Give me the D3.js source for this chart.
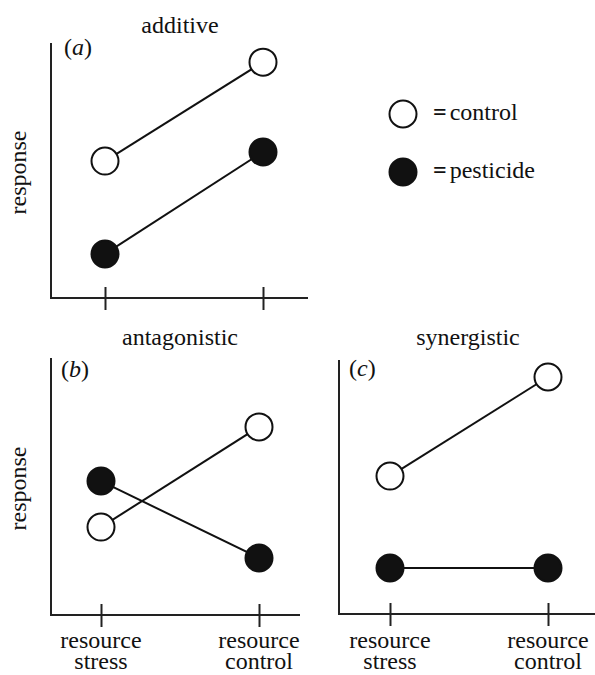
<!DOCTYPE html>
<html><head><meta charset="utf-8">
<script src="https://cdn.jsdelivr.net/npm/d3@7"></script>
<style>body{margin:0;background:#fff}svg{display:block}</style>
</head><body><svg id="c" width="595" height="675"></svg>
<script>
const categories = ["resource stress", "resource control"];
const panelTitles = ["additive", "antagonistic", "synergistic"];
const panelLetters = ["a", "b", "c"];
const seriesNames = ["control", "pesticide"];
// response values (arbitrary units, 0 = x-axis, 10 = top of y-axis)
const controlValues = [[5.37, 9.25], [3.42, 7.32], [5.43, 9.33]];
const pesticideValues = [[1.73, 5.73], [5.21, 2.22], [1.81, 1.81]];

const svg = d3.select("#c");
const FONT = '"Liberation Serif", "Times New Roman", serif';
const FS = "24px";
const txt = (sel) => sel.append("text").style("font-family", FONT).style("font-size", FS).attr("fill", "#111");
const layouts = [
  {left: 51, right: 308, top: 43, bottom: 298, t0: 105, t1: 263, titleX: 180, titleY: 33, lx: 64, ly: 55, showX: false, showY: true},
  {left: 51, right: 300, top: 358, bottom: 615, t0: 101, t1: 259, titleX: 180, titleY: 345, lx: 61, ly: 377, showX: true, showY: true},
  {left: 339, right: 595, top: 360, bottom: 614, t0: 390, t1: 548, titleX: 468, titleY: 345, lx: 349, ly: 376, showX: true, showY: false}
];
const R = 13.5;
layouts.forEach((L, i) => {
  const x = d3.scalePoint().domain(categories).range([L.t0, L.t1]);
  const y = d3.scaleLinear().domain([0, 10]).range([L.bottom, L.top]);
  const g = svg.append("g");
  g.append("line").attr("x1", L.left).attr("x2", L.left).attr("y1", L.top).attr("y2", L.bottom + 1)
    .attr("stroke", "#222").attr("stroke-width", 2);
  const xa = g.append("g").attr("transform", `translate(0,${L.bottom})`)
    .call(d3.axisBottom(x).tickSize(0).tickFormat(""));
  xa.select(".domain").remove();
  g.append("line").attr("x1", L.left).attr("x2", L.right).attr("y1", L.bottom).attr("y2", L.bottom)
    .attr("stroke", "#222").attr("stroke-width", 2);
  xa.selectAll(".tick").append("line").attr("y1", -11).attr("y2", 12).attr("stroke", "#222").attr("stroke-width", 2);
  if (L.showX) {
    categories.forEach(c => {
      const parts = c.split(" ");
      txt(g).attr("x", x(c)).attr("y", 648).attr("text-anchor", "middle").text(parts[0]);
      txt(g).attr("x", x(c)).attr("y", 669).attr("text-anchor", "middle").text(parts[1]);
    });
  }
  if (L.showY) {
    const cy = (L.top + L.bottom) / 2 + 2;
    txt(g).attr("transform", `translate(26,${cy}) rotate(-90)`).attr("text-anchor", "middle").text("response");
  }
  txt(g).attr("x", L.titleX).attr("y", L.titleY).attr("text-anchor", "middle").text(panelTitles[i]);
  const lt = txt(g).attr("x", L.lx).attr("y", L.ly);
  lt.append("tspan").text("(");
  lt.append("tspan").style("font-style", "italic").text(panelLetters[i]);
  lt.append("tspan").text(")");
  [[pesticideValues[i], "#111"], [controlValues[i], "#fff"]].forEach(([vals, fill]) => {
    const pts = categories.map((c, k) => [x(c), y(vals[k])]);
    g.append("path").attr("d", d3.line()(pts)).attr("stroke", "#111").attr("stroke-width", 2).attr("fill", "none");
    g.selectAll(null).data(pts).enter().append("circle").attr("cx", d => d[0]).attr("cy", d => d[1]).attr("r", R)
      .attr("fill", fill).attr("stroke", "#111").attr("stroke-width", 2);
  });
});
const legend = svg.append("g");
seriesNames.forEach((s, k) => {
  const cy = 114 + k * 58;
  legend.append("circle").attr("cx", 403).attr("cy", cy).attr("r", 13.5).attr("fill", k ? "#111" : "#fff")
    .attr("stroke", "#111").attr("stroke-width", 2);
  const t = txt(legend).attr("x", 433).attr("y", cy + 6);
  t.append("tspan").style("font-weight", "bold").text("=");
  t.append("tspan").attr("dx", 3).text(s);
});
</script></body></html>
